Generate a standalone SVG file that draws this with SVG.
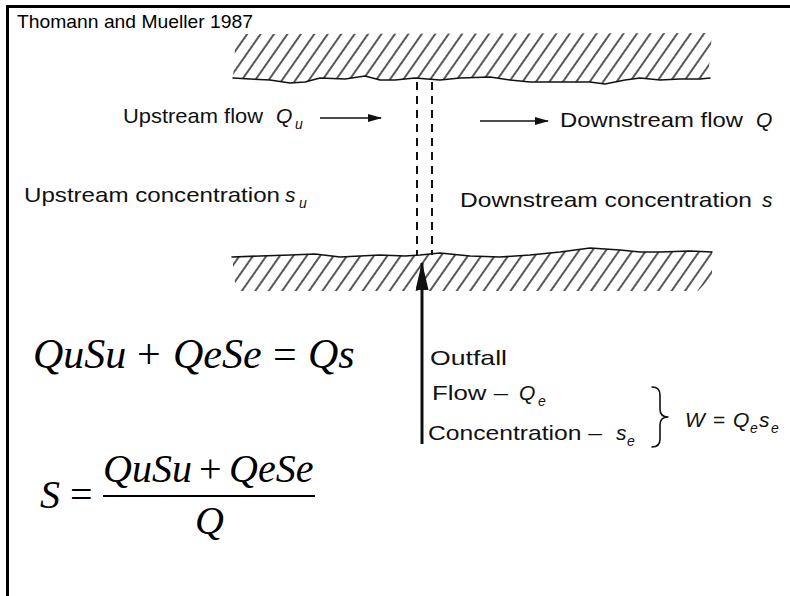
<svg xmlns="http://www.w3.org/2000/svg" width="790" height="596" viewBox="0 0 790 596">
<style>
.lbl{font-family:"Liberation Sans",Arial,sans-serif;font-size:21px;fill:#111}
.it{font-style:italic}
.sub{font-size:14px}
.eq{font-family:"Liberation Serif","Times New Roman",serif;font-style:italic;fill:#000}
.op{font-family:"Liberation Serif","Times New Roman",serif;fill:#000}
.edge{fill:none;stroke:#111;stroke-width:1.6;stroke-linejoin:round;stroke-linecap:round}
.dash{stroke:#111;stroke-width:2;stroke-dasharray:8 6}
</style>
<defs>
<pattern id="hatch" width="11" height="20" patternUnits="userSpaceOnUse" patternTransform="rotate(35)">
<line x1="2" y1="0" x2="2" y2="20" stroke="#111" stroke-width="1.4"/>
</pattern>
<marker id="ah" markerUnits="userSpaceOnUse" markerWidth="14" markerHeight="8" refX="13" refY="4" orient="auto">
<path d="M0,0 L14,4 L0,8 z" fill="#111"/>
</marker>
<marker id="ahBig" markerUnits="userSpaceOnUse" markerWidth="28" markerHeight="13" refX="27" refY="6.5" orient="auto">
<path d="M0,0 L28,6.5 L0,13 z" fill="#111"/>
</marker>
</defs>
<rect width="790" height="596" fill="#fff"/>
<g id="frame">
<line x1="7" y1="6.5" x2="790" y2="6.5" stroke="#000" stroke-width="3"/>
<line x1="7.5" y1="5" x2="7.5" y2="596" stroke="#000" stroke-width="3"/>
</g>
<text id="title" x="17" y="28" font-family="Liberation Sans, Arial, sans-serif" font-size="19" textLength="236" lengthAdjust="spacingAndGlyphs" fill="#000">Thomann and Mueller 1987</text>
<g id="top-bank">
<path d="M236,34 L712,33 L708,79 L700,79 L680,79 L660,80 L640,78 L625,80 L605,84 L590,82 L560,82 L530,82 L510,80 L490,77 L460,78 L440,80 L415,78 L395,80 L380,80 L365,76 L345,79 L320,78 L305,82 L290,83 L270,80 L250,79 L233,78 Z" fill="url(#hatch)"/>
<polyline class="edge" points="233,78 250,79 270,80 290,83 305,82 320,78 345,79 365,76 380,80 395,80 415,78 440,80 460,78 490,77 510,80 530,82 560,82 590,82 605,84 625,80 640,78 660,80 680,79 700,79 710,78"/>
</g>
<g id="bottom-bank">
<path d="M232,257 L260,256 L290,255 L315,254 L340,257 L360,256 L380,255 L405,256 L420,255 L440,253 L470,256 L500,257 L530,255 L560,252 L590,248 L620,250 L640,252 L660,252 L690,251 L712,252 L712,276 L698,291 L236,291 Z" fill="url(#hatch)"/>
<polyline class="edge" points="232,257 260,256 290,255 315,254 340,257 360,256 380,255 405,256 420,255 440,253 470,256 500,257 530,255 560,252 590,248 620,250 640,252 660,252 690,251 712,252"/>
</g>
<g id="mixing-section">
<line class="dash" x1="417" y1="82" x2="417" y2="255"/>
<line class="dash" x1="432" y1="82" x2="432" y2="255"/>
</g>
<g id="connectors">
<line x1="320" y1="118" x2="381" y2="118" stroke="#111" stroke-width="1.6" marker-end="url(#ah)"/>
<line x1="480" y1="121" x2="548" y2="121" stroke="#111" stroke-width="1.6" marker-end="url(#ah)"/>
<line x1="422" y1="444" x2="422" y2="263" stroke="#111" stroke-width="3" marker-end="url(#ahBig)"/>
</g>
<g id="upstream-flow">
<text class="lbl" x="123" y="123" textLength="140" lengthAdjust="spacingAndGlyphs">Upstream flow</text>
<text class="lbl it" x="276" y="123">Q</text>
<text class="lbl it sub" x="295" y="129">u</text>
</g>
<g id="downstream-flow">
<text class="lbl" x="560" y="127" textLength="183" lengthAdjust="spacingAndGlyphs">Downstream flow</text>
<text class="lbl it" x="756" y="127">Q</text>
</g>
<g id="upstream-conc">
<text class="lbl" x="24" y="202" textLength="256" lengthAdjust="spacingAndGlyphs">Upstream concentration</text>
<text class="lbl it" x="285" y="202">s</text>
<text class="lbl it sub" x="299" y="208">u</text>
</g>
<g id="downstream-conc">
<text class="lbl" x="460" y="207" textLength="292" lengthAdjust="spacingAndGlyphs">Downstream concentration</text>
<text class="lbl it" x="762" y="207">s</text>
</g>
<g id="outfall">
<text class="lbl" x="430" y="365" textLength="77" lengthAdjust="spacingAndGlyphs">Outfall</text>
<text class="lbl" x="432" y="400" textLength="76" lengthAdjust="spacingAndGlyphs">Flow –</text>
<text class="lbl it" x="519" y="400">Q</text>
<text class="lbl it sub" x="538" y="406">e</text>
<text class="lbl" x="428" y="440" textLength="174" lengthAdjust="spacingAndGlyphs">Concentration –</text>
<text class="lbl it" x="616" y="440">s</text>
<text class="lbl it sub" x="627" y="446">e</text>
<path class="edge" d="M652,387 Q660,387 660,395 L660,409 Q660,417 668,417 Q660,417 660,425 L660,439 Q660,447 652,447"/>
<text class="lbl it" x="685" y="427">W</text>
<text class="lbl" x="713" y="427">=</text>
<text class="lbl it" x="733" y="427">Q</text>
<text class="lbl it sub" x="750" y="433">e</text>
<text class="lbl it" x="759" y="427">s</text>
<text class="lbl it sub" x="771" y="433">e</text>
</g>
<g id="equation-1" font-size="42">
<text class="eq" x="33" y="368">QuSu</text>
<text class="op" x="137" y="368">+</text>
<text class="eq" x="173" y="368">QeSe</text>
<text class="op" x="273" y="368">=</text>
<text class="eq" x="308" y="368">Qs</text>
</g>
<g id="equation-2" font-size="40">
<text class="eq" x="40" y="508">S</text>
<text class="op" x="70" y="508">=</text>
<text class="eq" x="103" y="482">QuSu</text>
<text class="op" x="199" y="482">+</text>
<text class="eq" x="229" y="482">QeSe</text>
<line x1="103" y1="496" x2="315" y2="496" stroke="#000" stroke-width="2"/>
<text class="eq" x="195" y="534">Q</text>
</g>
</svg>
